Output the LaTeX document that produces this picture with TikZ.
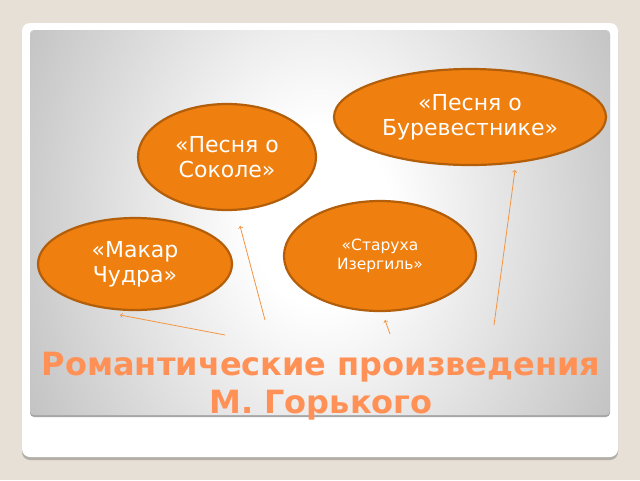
\documentclass[tikz,border=0pt]{standalone}
\usepackage{fontspec}
\setmainfont{DejaVu Sans}
\usetikzlibrary{shapes.geometric}
\definecolor{bgbeige}{HTML}{E6E0D6}
\definecolor{cardshadow}{HTML}{B3AFA7}
\definecolor{panelgray}{HTML}{999999}
\definecolor{songfill}{HTML}{EF800F}
\definecolor{songdraw}{HTML}{B25E0A}
\definecolor{arrowor}{HTML}{F59440}
\definecolor{titleor}{HTML}{FF9156}
\pgfdeclareradialshading{panelshade}{\pgfpoint{0bp}{0bp}}{color(0bp)=(white); color(6bp)=(white); color(44bp)=(panelgray); color(60bp)=(panelgray)}

\begin{document}
\begin{tikzpicture}[x=1pt,y=-1pt,
  song/.style={ellipse,draw=songdraw,line width=2.2pt,fill=songfill,text=white,align=center,inner sep=0pt,font=\fontsize{22}{25}\selectfont},
  link/.style={draw=arrowor,line width=0.8pt,->}]
\useasboundingbox (0,0) rectangle (640,480);
\fill[bgbeige] (0,0) rectangle (640,480);
% card and panel
\fill[cardshadow,rounded corners=8pt] (22,26) rectangle (618,460);
\fill[white,rounded corners=8pt] (22,23) rectangle (618,457);
\fill[gray!70,rounded corners=4pt] (30,31) rectangle (610,417);
\begin{scope}
\clip[rounded corners=4pt] (30,30) rectangle (610,415);
\shade[shading=panelshade] (30,-160) rectangle (610,590);
\end{scope}
% works
\node[song,minimum width=272pt,minimum height=96pt] (burevestnik) at (470,117) {«Песня о\\Буревестнике»};
\node[song,minimum width=178pt,minimum height=106pt] (sokol) at (227,157) {«Песня о\\Соколе»};
\node[song,minimum width=192pt,minimum height=110pt,font=\fontsize{15.5}{19}\selectfont] (izergil) at (380,256) {«Старуха\\Изергиль»};
\node[song,minimum width=194pt,minimum height=92pt] (makar) at (135,264) {«Макар\\Чудра»};
\node[text=titleor,font=\bfseries\fontsize{32}{38}\selectfont,align=center] (title) at (321,386) {Романтические произведения\\М. Горького};
% arrows
\coordinate (makartail) at (225,335);
\coordinate (makartip) at (120,315);
\coordinate (sokoltail) at (265,320);
\coordinate (sokoltip) at (240,226);
\coordinate (izergiltail) at (390,334);
\coordinate (izergiltip) at (385,320);
\coordinate (burevestniktail) at (494,325);
\coordinate (burevestniktip) at (515,170);
\draw[link] (makartail) -- (makartip);
\draw[link] (sokoltail) -- (sokoltip);
\draw[link] (izergiltail) -- (izergiltip);
\draw[link] (burevestniktail) -- (burevestniktip);
\end{tikzpicture}
\end{document}
